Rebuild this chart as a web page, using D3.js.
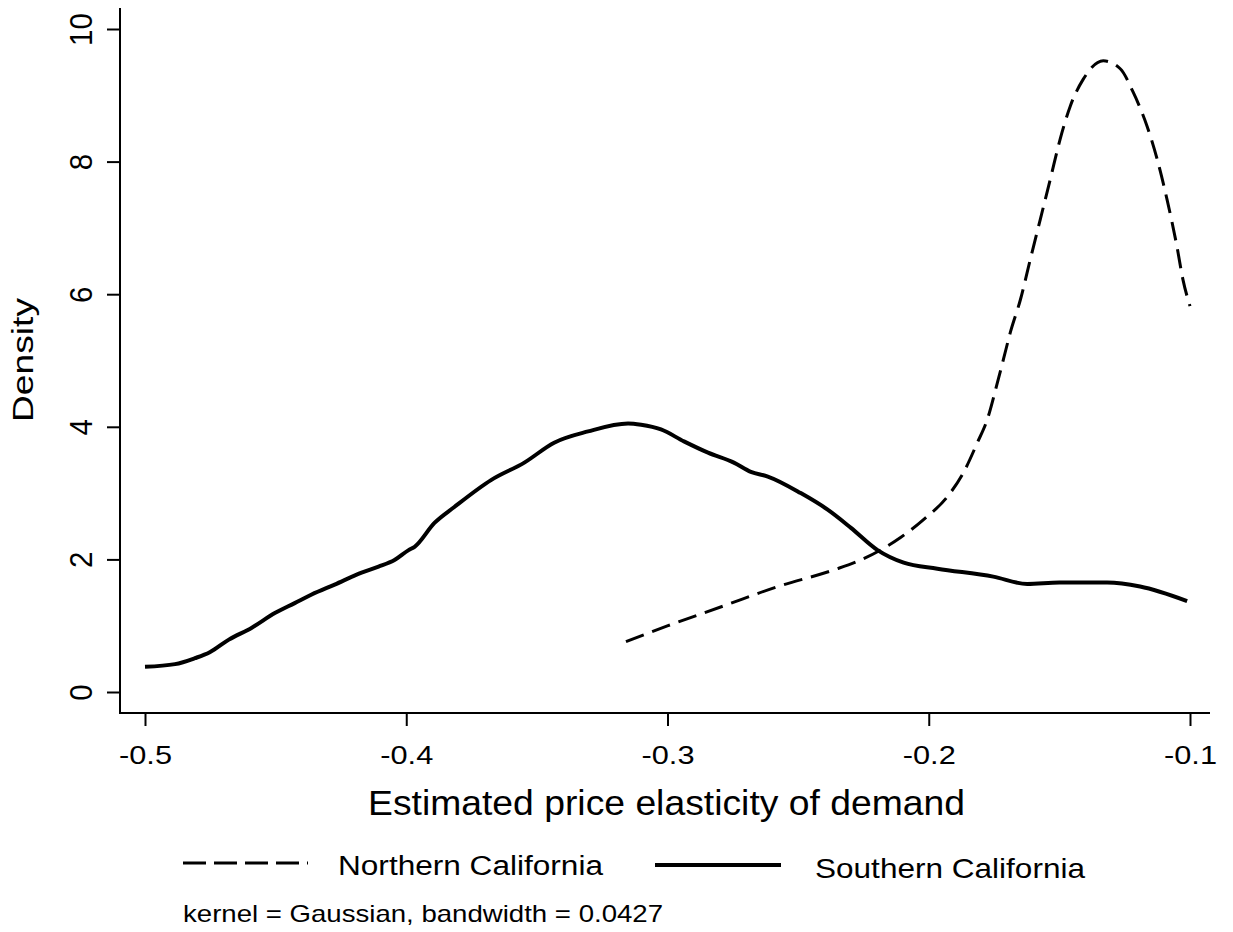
<!DOCTYPE html>
<html>
<head>
<meta charset="utf-8">
<script src="https://cdn.jsdelivr.net/npm/d3@7"></script>
<style>
    body { margin: 0; background: #fff; }
    text { font-family: "Liberation Sans", Arial, sans-serif; fill: #000; }
</style>
</head>
<body>
<script>
/*
    Kernel density of estimated price elasticities, north vs south
 */

// Southern California (solid)
const southX = [-0.5, -0.4885, -0.4809, -0.4752, -0.4679, -0.4591, -0.4503, -0.4427, -0.4362, -0.4274,
    -0.4171, -0.4106, -0.4045, -0.3991, -0.3968, -0.3892, -0.3816, -0.3674, -0.3548, -0.3434,
    -0.3304, -0.3151, -0.3101, -0.3025, -0.2937, -0.2845, -0.2746, -0.2681, -0.2616, -0.2490,
    -0.2387, -0.2299, -0.2196, -0.2096, -0.1967, -0.1753, -0.1623, -0.15, -0.1317, -0.1191, -0.1011];
const southY = [0.38, 0.42, 0.51, 0.60, 0.79, 0.97, 1.19, 1.34, 1.47, 1.62,
    1.80, 1.89, 1.99, 2.14, 2.19, 2.55, 2.79, 3.20, 3.46, 3.76,
    3.93, 4.05, 4.03, 3.96, 3.78, 3.61, 3.46, 3.32, 3.25, 3.00,
    2.75, 2.48, 2.14, 1.95, 1.86, 1.74, 1.63, 1.65, 1.65, 1.59, 1.37];

// Northern California (dashed)
const northX = [-0.3159, -0.2998, -0.2784, -0.2578, -0.2364, -0.2261, -0.2108, -0.2020, -0.1928, -0.1867,
    -0.1814, -0.1776, -0.1737, -0.1714, -0.1688, -0.1649, -0.1611, -0.1573, -0.1535, -0.1497,
    -0.1458, -0.1409, -0.1332, -0.1267, -0.1218, -0.1164, -0.1126, -0.1088, -0.1050, -0.1027, -0.1];
const northY = [0.76, 1.00, 1.30, 1.59, 1.84, 1.99, 2.33, 2.60, 2.95, 3.31,
    3.76, 4.11, 4.67, 5.02, 5.42, 5.92, 6.53, 7.13, 7.73, 8.34,
    8.84, 9.24, 9.52, 9.40, 9.05, 8.53, 8.04, 7.43, 6.72, 6.22, 5.82];

const xTicks = [-0.5, -0.4, -0.3, -0.2, -0.1];
const xTickLabels = ["-0.5", "-0.4", "-0.3", "-0.2", "-0.1"];
const yTicks = [0, 2, 4, 6, 8, 10];
const yTickLabels = ["0", "2", "4", "6", "8", "10"];

const seriesNames = ["Northern California", "Southern California"];
const xTitle = "Estimated price elasticity of demand";
const yTitle = "Density";
const note = "kernel = Gaussian, bandwidth = 0.0427";

const WIDTH = 1233, HEIGHT = 932;
const plotLeft = 120, plotRight = 1210, plotTop = 8, plotBottom = 713;

const svg = d3.select("body").append("svg")
    .attr("width", WIDTH)
    .attr("height", HEIGHT);

let x = d3.scaleLinear().domain([-0.5, -0.1]).range([145, 1190]);
let y = d3.scaleLinear().domain([0, 10]).range([692, 29]);

// stretch a text to the measured width
function stretch(sel, f) {
    sel.each(function() {
        let L = this.getComputedTextLength();
        d3.select(this).attr("textLength", L * f).attr("lengthAdjust", "spacingAndGlyphs");
    });
}

// axes frame lines
svg.append("line")
    .attr("x1", plotLeft).attr("x2", plotLeft).attr("y1", plotTop).attr("y2", plotBottom)
    .attr("stroke", "#000").attr("stroke-width", 2);
svg.append("line")
    .attr("x1", plotLeft - 1).attr("x2", plotRight).attr("y1", plotBottom).attr("y2", plotBottom)
    .attr("stroke", "#000").attr("stroke-width", 2);

// x axis
let gx = svg.append("g")
    .attr("transform", `translate(0,${plotBottom})`)
    .call(d3.axisBottom(x).tickValues(xTicks).tickSize(13).tickSizeOuter(0)
        .tickFormat((d, i) => xTickLabels[i]));
gx.select(".domain").remove();
gx.selectAll("line").attr("stroke-width", 2);
gx.selectAll("text")
    .attr("y", 51).attr("dy", 0)
    .attr("font-size", 25)
    .attr("font-family", "Liberation Sans, Arial, sans-serif")
    .attr("textLength", 53).attr("lengthAdjust", "spacingAndGlyphs");

// y axis
let gy = svg.append("g")
    .attr("transform", `translate(${plotLeft},0)`)
    .call(d3.axisLeft(y).tickValues(yTicks).tickSize(13).tickSizeOuter(0)
        .tickFormat((d, i) => yTickLabels[i]));
gy.select(".domain").remove();
gy.selectAll("line").attr("stroke-width", 2);
gy.selectAll("text")
    .attr("x", 0).attr("dy", 0)
    .attr("text-anchor", "middle")
    .attr("transform", "translate(-28,0) rotate(-90)")
    .attr("font-size", 31)
    .attr("font-family", "Liberation Sans, Arial, sans-serif")
    .call(stretch, 0.95);

// axis titles
svg.append("text")
    .attr("x", 368).attr("y", 815)
    .attr("font-size", 35)
    .attr("textLength", 597).attr("lengthAdjust", "spacingAndGlyphs")
    .text(xTitle);

svg.append("text")
    .attr("transform", "translate(33,360) rotate(-90)")
    .attr("text-anchor", "middle")
    .attr("font-size", 29)
    .attr("textLength", 124).attr("lengthAdjust", "spacingAndGlyphs")
    .text(yTitle);

// density curves
let line = d3.line()
    .x(d => x(d[0]))
    .y(d => y(d[1]))
    .curve(d3.curveMonotoneX);

let southData = southX.map((v, i) => [v, southY[i]]);
let northData = northX.map((v, i) => [v, northY[i]]);

svg.append("path")
    .datum(northData)
    .attr("d", line)
    .attr("fill", "none")
    .attr("stroke", "#000")
    .attr("stroke-width", 3)
    .attr("stroke-dasharray", "19,9");

svg.append("path")
    .datum(southData)
    .attr("d", line)
    .attr("fill", "none")
    .attr("stroke", "#000")
    .attr("stroke-width", 4)
    .attr("stroke-linejoin", "round");

// legend
svg.append("line")
    .attr("x1", 183).attr("x2", 308).attr("y1", 863).attr("y2", 863)
    .attr("stroke", "#000").attr("stroke-width", 3)
    .attr("stroke-dasharray", "23,8");
svg.append("text")
    .attr("x", 338).attr("y", 875)
    .attr("font-size", 27)
    .attr("textLength", 265).attr("lengthAdjust", "spacingAndGlyphs")
    .text(seriesNames[0]);

svg.append("line")
    .attr("x1", 655).attr("x2", 781).attr("y1", 865).attr("y2", 865)
    .attr("stroke", "#000").attr("stroke-width", 4);
svg.append("text")
    .attr("x", 815).attr("y", 878)
    .attr("font-size", 28)
    .attr("textLength", 270).attr("lengthAdjust", "spacingAndGlyphs")
    .text(seriesNames[1]);

// note
svg.append("text")
    .attr("x", 183).attr("y", 922)
    .attr("font-size", 24)
    .attr("textLength", 480).attr("lengthAdjust", "spacingAndGlyphs")
    .text(note);
</script>
</body>
</html>
